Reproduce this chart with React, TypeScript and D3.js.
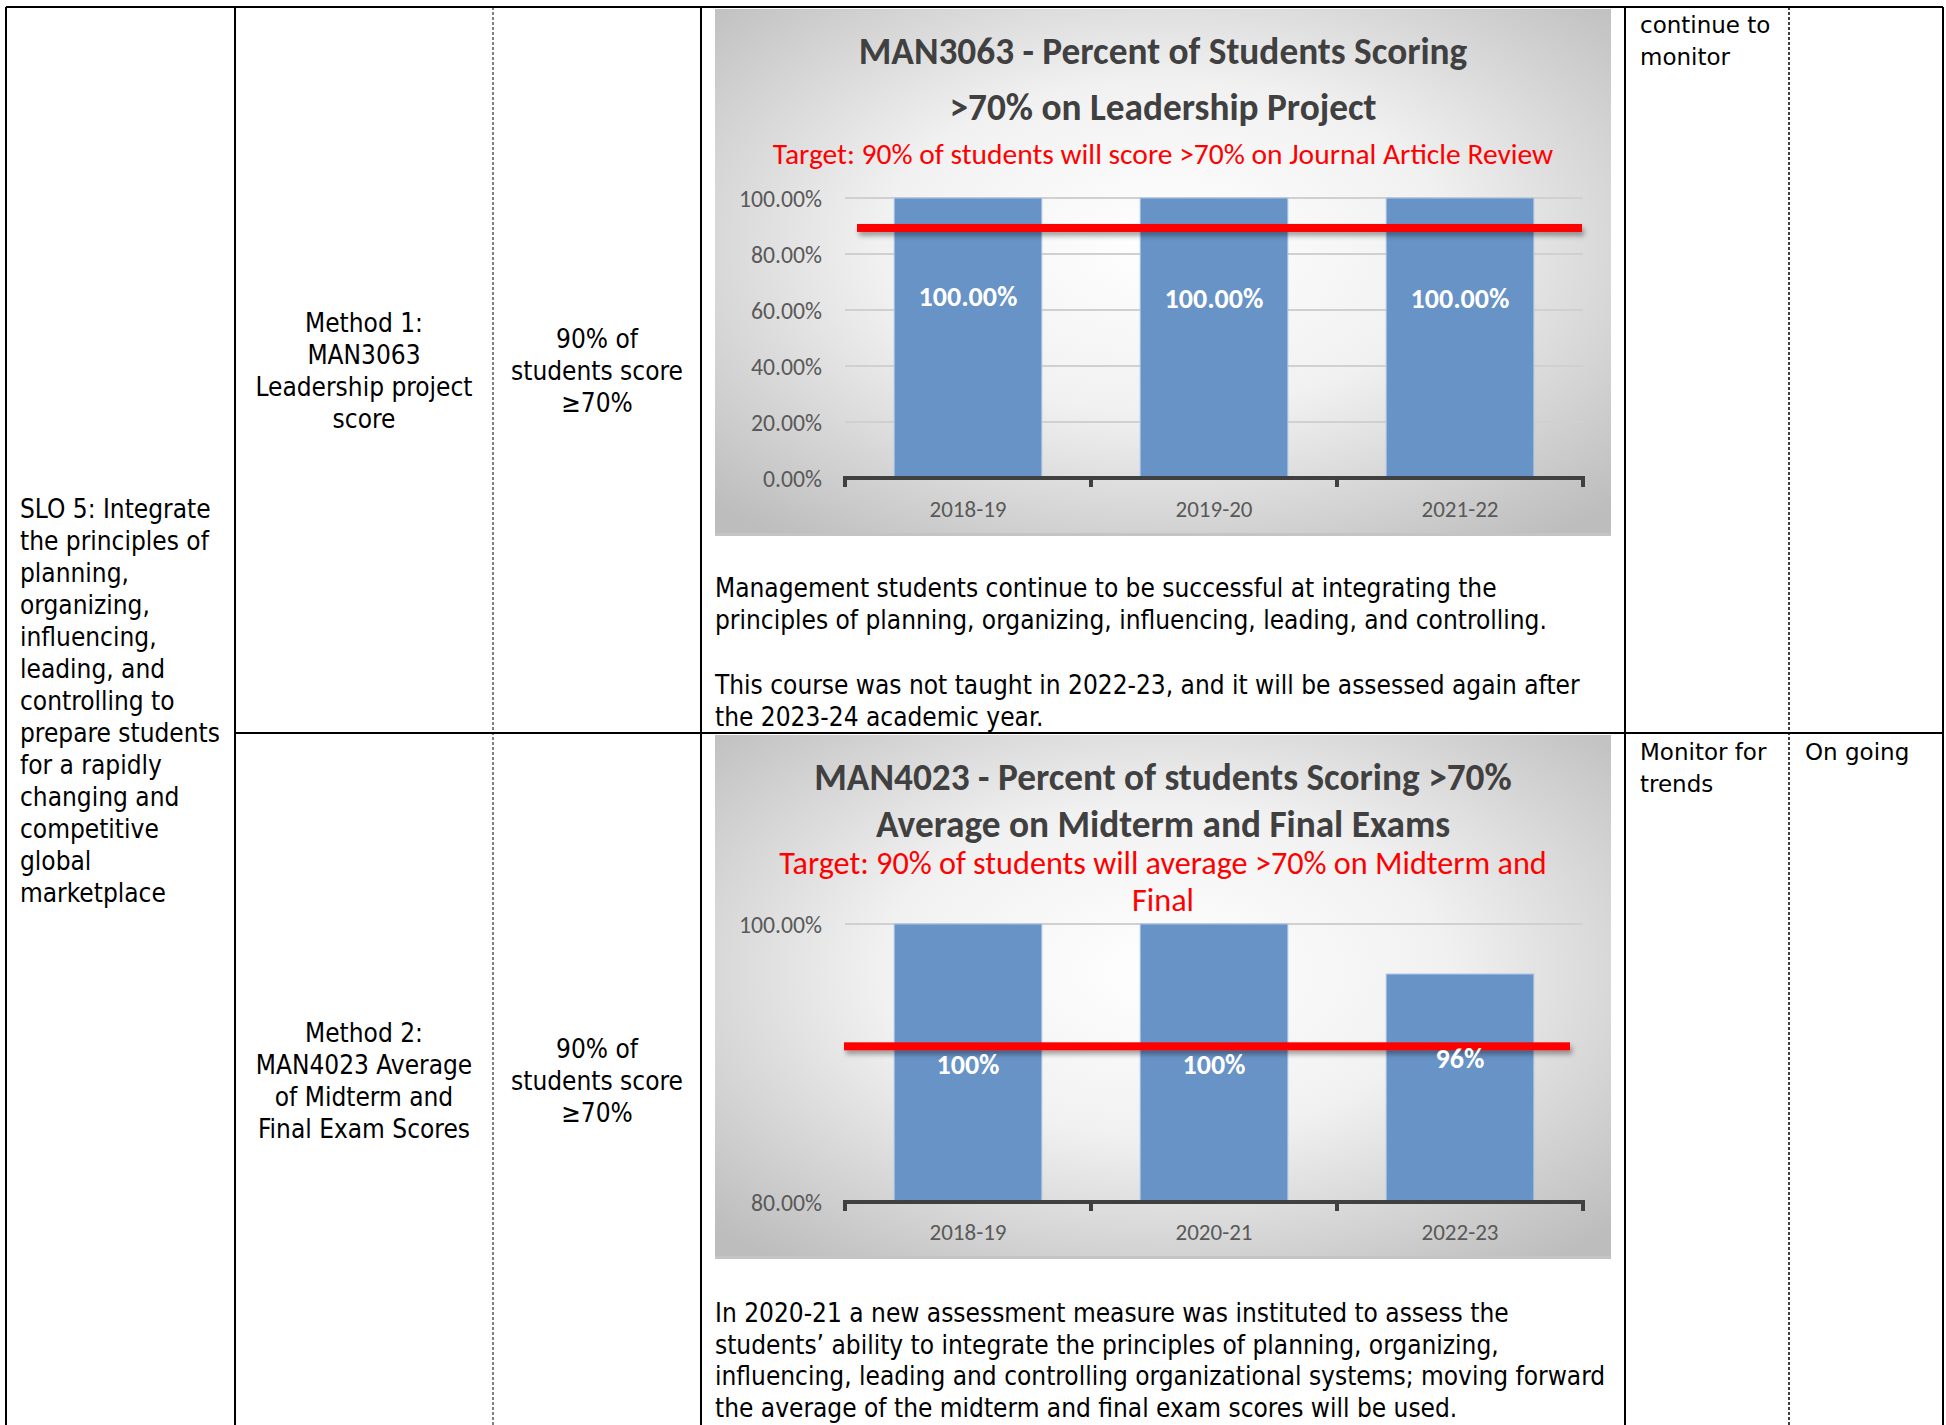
import React, { useEffect } from 'react';
import * as d3 from 'd3';

// ---- data ----
const years1 = ['2018-19', '2019-20', '2021-22'];
const values1 = [100, 100, 100];
const labels1 = ['100.00%', '100.00%', '100.00%'];
const ticks1 = [0, 20, 40, 60, 80, 100];
const target1 = 89.3;

const years2 = ['2018-19', '2020-21', '2022-23'];
const values2 = [100, 100, 96.4];
const labels2 = ['100%', '100%', '96%'];
const ticks2 = [80, 100];
const target2 = 91.2;

const title1 = ['MAN3063 - Percent of Students Scoring', '>70% on Leadership Project'];
const subtitle1 = ['Target: 90% of students will score >70% on Journal Article Review'];
const title2 = ['MAN4023 - Percent of students Scoring >70%', 'Average on Midterm and Final Exams'];
const subtitle2 = ['Target: 90% of students will average >70% on Midterm and', 'Final'];

const sloLines = [
  'SLO 5: Integrate', 'the principles of', 'planning,', 'organizing,', 'influencing,',
  'leading, and', 'controlling to', 'prepare students', 'for a rapidly', 'changing and',
  'competitive', 'global', 'marketplace',
];
const method1 = ['Method 1:', 'MAN3063', 'Leadership project', 'score'];
const method2 = ['Method 2:', 'MAN4023 Average', 'of Midterm and', 'Final Exam Scores'];
const criteria = ['90% of', 'students score', '\u226570%'];
const note1a = [
  'Management students continue to be successful at integrating the',
  'principles of planning, organizing, influencing, leading, and controlling.',
];
const note1b = [
  'This course was not taught in 2022-23, and it will be assessed again after',
  'the 2023-24 academic year.',
];
const note2 = [
  'In 2020-21 a new assessment measure was instituted to assess the',
  'students\u2019 ability to integrate the principles of planning, organizing,',
  'influencing, leading and controlling organizational systems; moving forward',
  'the average of the midterm and final exam scores will be used.',
];
const action1 = ['continue to', 'monitor'];
const action2 = ['Monitor for', 'trends'];
const status2 = ['On going'];

const BODY_FONT = "'DejaVu Sans Condensed', 'DejaVu Sans', sans-serif";
const CHART_FONT = "Carlito, 'Liberation Sans Narrow', 'DejaVu Sans Condensed', sans-serif";
const LINE_H = 32;

function Lines({ lines, x, y, anchor = 'start', size = 26, family = BODY_FONT, fill = '#000', weight = 'normal', lh = LINE_H }) {
  return (
    <text x={x} y={y} textAnchor={anchor} fontFamily={family} fontSize={size} fill={fill} fontWeight={weight}>
      {lines.map((l, i) => (
        <tspan key={i} x={x} y={y + i * lh} dominantBaseline="central">{l}</tspan>
      ))}
    </text>
  );
}

function BarChart({ id, box, titles, titleY, titleGap, subs, subY, subSize, plot, domain, ticks, years, values, labels, labelAt, target, lineInset, catY }) {
  const x = d3.scaleBand().domain(years).range([plot.left, plot.right]).paddingInner(0.4).paddingOuter(0.2);
  const y = d3.scaleLinear().domain(domain).range([plot.bottom, plot.top]);
  const step = x.step();
  const bounds = d3.range(years.length + 1).map(i => plot.left + i * step);
  const cx = box.x + box.w / 2;
  const lineX0 = plot.left + lineInset[0];
  const lineX1 = plot.right - lineInset[1];
  return (
    <g>
      <defs>
        <radialGradient id={`bg-${id}`} cx="50%" cy="45%" r="70%">
          <stop offset="0%" stopColor="#ffffff" />
          <stop offset="45%" stopColor="#f1f1f1" />
          <stop offset="100%" stopColor="#bdbdbd" />
        </radialGradient>
        <filter id={`sh-${id}`} filterUnits="userSpaceOnUse" x={box.x} y={box.y} width={box.w} height={box.h}>
          <feDropShadow dx="2" dy="4" stdDeviation="2.5" floodColor="#000" floodOpacity="0.35" />
        </filter>
      </defs>
      <rect x={box.x} y={box.y} width={box.w} height={box.h} fill={`url(#bg-${id})`} />
      <line x1={box.x} x2={box.x + box.w} y1={box.y + box.h - 1.5} y2={box.y + box.h - 1.5} stroke="#c4c4c4" strokeWidth={3} />
      {titles.map((t, i) => (
        <text key={t} x={cx} y={titleY + i * titleGap} textAnchor="middle"
          dominantBaseline="central" fontFamily={CHART_FONT} fontWeight="bold" fontSize={37.3} fill="#404040">{t}</text>
      ))}
      {subs.map((t, i) => (
        <text key={t} x={cx} y={subY + i * 37} textAnchor="middle" dominantBaseline="central"
          fontFamily={CHART_FONT} fontSize={subSize} fill="#ff0000">{t}</text>
      ))}
      {ticks.map(t => (
        <g key={t}>
          {t !== domain[0] && (
            <line x1={plot.left} x2={plot.right} y1={y(t)} y2={y(t)} stroke="#d0d0d0" strokeWidth={2} />
          )}
          <text x={plot.left - 23} y={y(t)} textAnchor="end" dominantBaseline="central"
            fontFamily={CHART_FONT} fontSize={23.7} fill="#595959">{d3.format('.2f')(t)}%</text>
        </g>
      ))}
      {years.map((c, i) => (
        <rect key={c} x={x(c)} y={y(values[i])} width={x.bandwidth()} height={plot.bottom - y(values[i])}
          fill="#6893c7" stroke="#a9c3e6" strokeWidth={1} />
      ))}
      <line x1={plot.left} x2={plot.right} y1={plot.bottom} y2={plot.bottom} stroke="#404040" strokeWidth={4} />
      {bounds.map((b, i) => (
        <line key={i} x1={b} x2={b} y1={plot.bottom - 2} y2={plot.bottom + 9} stroke="#404040" strokeWidth={4} />
      ))}
      {years.map(c => (
        <text key={c} x={x(c) + x.bandwidth() / 2} y={catY} textAnchor="middle" dominantBaseline="central"
          fontFamily={CHART_FONT} fontSize={23} fill="#595959">{c}</text>
      ))}
      <rect x={lineX0} y={y(target) - 4} width={lineX1 - lineX0} height={8}
        fill="#ff0000" filter={`url(#sh-${id})`} />
      {years.map((c, i) => (
        <text key={c} x={x(c) + x.bandwidth() / 2} y={y(labelAt[i])} textAnchor="middle" dominantBaseline="central"
          fontFamily={CHART_FONT} fontWeight="bold" fontSize={28} fill="#ffffff">{labels[i]}</text>
      ))}
    </g>
  );
}

export default function App() {
  useEffect(() => {
    document.body.style.margin = '0';
    document.body.style.overflow = 'hidden';
  }, []);

  const top = 7;
  const rowDiv = 733;
  const cols = { left: 6, c1: 235, c2: 493, c3: 701, c4: 1625, c5: 1789, right: 1943 };
  const ACTION_FONT = "'DejaVu Sans', sans-serif";

  return (
    <svg width={1946} height={1425} style={{ position: 'absolute', left: 0, top: 0, background: '#fff' }}>
      <rect x={0} y={0} width={1946} height={1425} fill="#fff" />

      <BarChart id="c1" box={{ x: 715, y: 9, w: 896, h: 527 }}
        titles={title1} titleY={51} titleGap={56} subs={subtitle1} subY={154} subSize={29.5}
        plot={{ left: 845, right: 1583, top: 198, bottom: 478 }}
        domain={[0, 100]} ticks={ticks1} years={years1} values={values1} labels={labels1}
        labelAt={[64.8, 64.2, 64.2]} target={target1} lineInset={[12, 1]} catY={509} />

      <BarChart id="c2" box={{ x: 715, y: 735, w: 896, h: 524 }}
        titles={title2} titleY={777} titleGap={47} subs={subtitle2} subY={863} subSize={32.2}
        plot={{ left: 845, right: 1583, top: 924, bottom: 1202 }}
        domain={[80, 100]} ticks={ticks2} years={years2} values={values2} labels={labels2}
        labelAt={[89.9, 89.9, 90.3]} target={target2} lineInset={[-1, 13]} catY={1232} />

      {/* table grid */}
      <g stroke="#000">
        <line x1={cols.left} x2={cols.right} y1={top} y2={top} strokeWidth={2} />
        <line x1={cols.c1} x2={cols.right} y1={rowDiv} y2={rowDiv} strokeWidth={2} />
        <line x1={cols.left} x2={cols.left} y1={top} y2={1425} strokeWidth={2} />
        <line x1={cols.c1} x2={cols.c1} y1={top} y2={1425} strokeWidth={2} />
        <line x1={cols.c2} x2={cols.c2} y1={top} y2={1425} strokeWidth={1} strokeDasharray="3,2" />
        <line x1={cols.c3} x2={cols.c3} y1={top} y2={1425} strokeWidth={2} />
        <line x1={cols.c4} x2={cols.c4} y1={top} y2={1425} strokeWidth={2} />
        <line x1={cols.c5} x2={cols.c5} y1={top} y2={1425} strokeWidth={1.5} strokeDasharray="3,2" />
        <line x1={cols.right} x2={cols.right} y1={top} y2={1425} strokeWidth={2} />
      </g>

      <Lines lines={sloLines} x={20} y={509} />
      <Lines lines={method1} x={364} y={323} anchor="middle" />
      <Lines lines={criteria} x={597} y={339} anchor="middle" />
      <Lines lines={method2} x={364} y={1033} anchor="middle" />
      <Lines lines={criteria} x={597} y={1049} anchor="middle" />
      <Lines lines={note1a} x={715} y={588} />
      <Lines lines={note1b} x={715} y={685} />
      <Lines lines={note2} x={715} y={1313} lh={31.7} />
      <Lines lines={action1} x={1640} y={25} family={ACTION_FONT} size={23} />
      <Lines lines={action2} x={1640} y={752} family={ACTION_FONT} size={23} />
      <Lines lines={status2} x={1805} y={752} family={ACTION_FONT} size={23} />
    </svg>
  );
}
